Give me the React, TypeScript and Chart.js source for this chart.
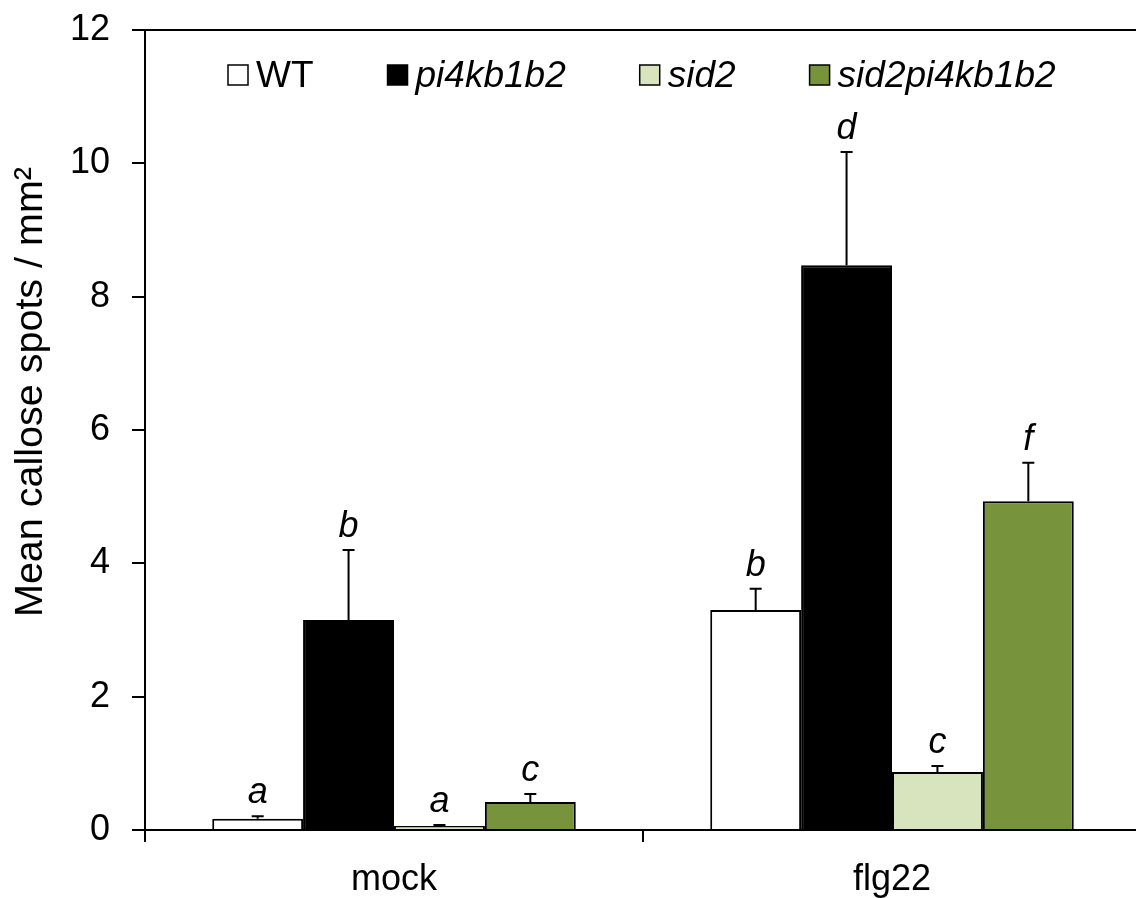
import React, { useEffect, useRef } from "react";
import { Chart, registerables } from "chart.js";

Chart.register(...registerables);

const categories = ["mock", "flg22"];
const seriesLabels = ["WT", "pi4kb1b2", "sid2", "sid2pi4kb1b2"];
const seriesItalic = [false, true, true, true];
const seriesColors = ["#FFFFFF", "#000000", "#D7E4BD", "#77933C"];

const wtMeans = [0.17, 3.3];
const wtErrors = [0.035, 0.32];
const pi4Means = [3.15, 8.47];
const pi4Errors = [1.05, 1.7];
const sid2Means = [0.06, 0.87];
const sid2Errors = [0.015, 0.09];
const dblMeans = [0.42, 4.93];
const dblErrors = [0.12, 0.58];

const wtLetters = ["a", "b"];
const pi4Letters = ["b", "d"];
const sid2Letters = ["a", "c"];
const dblLetters = ["c", "f"];

const yTitle = "Mean callose spots / mm\u00B2";

const means = [wtMeans, pi4Means, sid2Means, dblMeans];
const errors = [wtErrors, pi4Errors, sid2Errors, dblErrors];
const letters = [wtLetters, pi4Letters, sid2Letters, dblLetters];

const FONT = '"Liberation Sans", Arial, sans-serif';

const annotatePlugin = {
  id: "annotate",
  afterDatasetsDraw(chart: any) {
    const ctx = chart.ctx;
    const yScale = chart.scales.y;
    ctx.save();
    for (let i = 0; i < means.length; i++) {
      const meta = chart.getDatasetMeta(i);
      meta.data.forEach((bar: any, j: number) => {
        const x = bar.x;
        const yTop = bar.y;
        const yErr = yScale.getPixelForValue(means[i][j] + errors[i][j]);
        ctx.strokeStyle = "#000";
        ctx.lineWidth = 2;
        ctx.beginPath();
        ctx.moveTo(x, yTop);
        ctx.lineTo(x, yErr);
        ctx.moveTo(x - 6, yErr);
        ctx.lineTo(x + 6, yErr);
        ctx.stroke();
        ctx.fillStyle = "#000";
        ctx.font = `italic 36px ${FONT}`;
        ctx.textAlign = "center";
        ctx.textBaseline = "alphabetic";
        ctx.fillText(letters[i][j], x, yErr - 13);
      });
    }
    ctx.restore();
  },
  afterDraw(chart: any) {
    const ctx = chart.ctx;
    const area = chart.chartArea;
    ctx.save();
    // top border
    ctx.strokeStyle = "#000";
    ctx.lineWidth = 2;
    ctx.beginPath();
    ctx.moveTo(area.left, area.top);
    ctx.lineTo(area.right, area.top);
    ctx.stroke();

    // legend
    let x = 228;
    const cy = 75;
    for (let i = 0; i < seriesLabels.length; i++) {
      ctx.fillStyle = seriesColors[i];
      ctx.fillRect(x, cy - 10, 20, 20);
      ctx.strokeStyle = "#000";
      ctx.lineWidth = 1.5;
      ctx.strokeRect(x, cy - 10, 20, 20);
      ctx.fillStyle = "#000";
      ctx.font = `${seriesItalic[i] ? "italic " : ""}37px ${FONT}`;
      ctx.textAlign = "left";
      ctx.textBaseline = "alphabetic";
      ctx.fillText(seriesLabels[i], x + 28, 87);
      const w = ctx.measureText(seriesLabels[i]).width;
      x = x + 28 + w + 74;
    }

    // y title
    ctx.translate(42, 392);
    ctx.rotate(-Math.PI / 2);
    ctx.font = `39.5px ${FONT}`;
    ctx.textAlign = "center";
    ctx.textBaseline = "alphabetic";
    ctx.fillStyle = "#000";
    ctx.fillText(yTitle, 0, 0);
    ctx.restore();
  },
};

export default function App() {
  const canvasRef = useRef<HTMLCanvasElement | null>(null);

  useEffect(() => {
    if (!canvasRef.current) return;
    const chart = new Chart(canvasRef.current, {
      type: "bar",
      data: {
        labels: categories,
        datasets: seriesLabels.map((label, i) => ({
          label,
          data: means[i],
          backgroundColor: seriesColors[i],
          borderColor: "#000000",
          borderWidth: 2,
          categoryPercentage: 0.73,
          barPercentage: 1.0,
        })),
      },
      options: {
        responsive: false,
        animation: false,
        devicePixelRatio: 1,
        layout: { padding: { top: 30, right: 1, left: 0, bottom: 0 } },
        plugins: {
          legend: { display: false },
          tooltip: { enabled: false },
          title: { display: false },
        },
        scales: {
          x: {
            offset: true,
            grid: {
              display: true,
              offset: true,
              drawOnChartArea: false,
              drawTicks: true,
              tickLength: 12,
              color: "#000",
              lineWidth: 2,
            },
            border: { display: true, color: "#000", width: 2 },
            ticks: {
              color: "#000",
              font: { family: FONT, size: 36 },
              padding: 16,
              maxRotation: 0,
            },
            afterFit(scale: any) {
              scale.height = 68;
              scale.paddingLeft = 0;
              scale.paddingRight = 0;
            },
          },
          y: {
            min: 0,
            max: 12,
            grid: {
              display: true,
              drawOnChartArea: false,
              drawTicks: true,
              tickLength: 13,
              color: "#000",
              lineWidth: 2,
            },
            border: { display: true, color: "#000", width: 2 },
            ticks: {
              stepSize: 2,
              color: "#000",
              font: { family: FONT, size: 36 },
              padding: 22,
            },
            afterFit(scale: any) {
              scale.width = 145;
              scale.paddingTop = 0;
              scale.paddingBottom = 0;
            },
          },
        },
      },
      plugins: [annotatePlugin],
    });
    return () => chart.destroy();
  }, []);

  return (
    <div
      style={{
        position: "fixed",
        left: 0,
        top: 0,
        width: 1136,
        height: 898,
        overflow: "hidden",
        background: "#fff",
      }}
    >
      <canvas ref={canvasRef} width={1142} height={898} style={{ display: "block" }} />
    </div>
  );
}
